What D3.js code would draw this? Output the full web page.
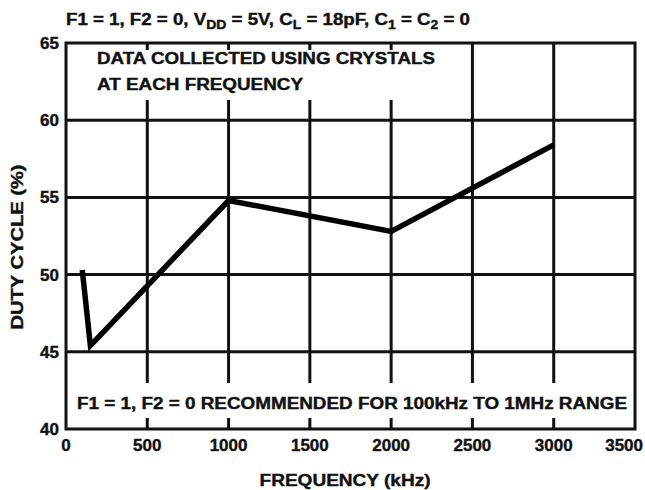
<!DOCTYPE html>
<html>
<head>
<meta charset="utf-8">
<script src="https://cdn.jsdelivr.net/npm/d3@7"></script>
<style>
    body { margin: 0; background: #fff; }
    text { font-family: "Liberation Sans", Arial, sans-serif; font-weight: bold; fill: #111; stroke: #111; stroke-width: 0.4px; }
</style>
</head>
<body>
<svg id="chart" width="645" height="490"></svg>
<script>
let freq = [100, 150, 1000, 2000, 3000]
let duty = [50.3, 45.4, 54.8, 52.8, 58.4]

let x_ticks = [0, 500, 1000, 1500, 2000, 2500, 3000, 3500]
let y_ticks = [40, 45, 50, 55, 60, 65]

let pad = { 'l': 66, 'r': 10, 't': 43, 'b': 61 }
let width = 645
let height = 490

let svg = d3.select('#chart')

let x = d3.scaleLinear().domain([0, 3500]).range([pad.l, width - pad.r])
let y = d3.scaleLinear().domain([40, 65]).range([height - pad.b, pad.t])

let grid = svg.append('g')
grid.selectAll('line.vg').data(x_ticks.slice(1, -1)).enter()
    .append('line')
    .attr('class', 'vg')
    .attr('x1', d => x(d)).attr('x2', d => x(d))
    .attr('y1', y(65)).attr('y2', y(40))
    .attr('stroke', '#111').attr('stroke-width', 3)

grid.selectAll('line.hg').data(y_ticks.slice(1, -1)).enter()
    .append('line')
    .attr('class', 'hg')
    .attr('x1', x(0)).attr('x2', x(3500))
    .attr('y1', d => y(d)).attr('y2', d => y(d))
    .attr('stroke', '#111').attr('stroke-width', 3)

// white boxes behind the notes, grid shows only as short ticks there
let boxes = svg.append('g')
boxes.append('rect')
    .attr('x', x(0) + 2).attr('y', y(65) + 7)
    .attr('width', 385).attr('height', 50)
    .style('fill', '#ffffff')
boxes.append('rect')
    .attr('x', x(0) + 2).attr('y', 383)
    .attr('width', x(3500) - x(0) - 4).attr('height', 35)
    .style('fill', '#ffffff')

// frame
svg.append('rect')
    .attr('x', x(0)).attr('y', y(65))
    .attr('width', x(3500) - x(0)).attr('height', y(40) - y(65))
    .attr('fill', 'none').attr('stroke', '#111').attr('stroke-width', 3)

// data line
let line = d3.line().x((d, i) => x(freq[i])).y(d => y(d))
svg.append('path')
    .datum(duty)
    .attr('d', line)
    .attr('fill', 'none')
    .attr('stroke', '#000')
    .attr('stroke-width', 5.5)
    .attr('stroke-linejoin', 'miter')

// tick labels
svg.append('g').selectAll('text').data(x_ticks).enter()
    .append('text')
    .attr('x', d => d === 3500 ? 643 : x(d)).attr('y', 451)
    .attr('text-anchor', d => d === 3500 ? 'end' : 'middle')
    .style('font-size', '17px')
    .text(d => d)

svg.append('g').selectAll('text').data(y_ticks).enter()
    .append('text')
    .attr('x', x(0) - 7).attr('y', d => y(d) + 6)
    .attr('text-anchor', 'end')
    .style('font-size', '17px')
    .text(d => d)

// axis titles
svg.append('text')
    .attr('x', 345).attr('y', 486)
    .attr('text-anchor', 'middle')
    .attr('textLength', 171).attr('lengthAdjust', 'spacingAndGlyphs')
    .style('font-size', '16px')
    .text('FREQUENCY (kHz)')

svg.append('text')
    .attr('transform', `translate(23, 247) rotate(-90)`)
    .attr('text-anchor', 'middle')
    .attr('textLength', 165).attr('lengthAdjust', 'spacingAndGlyphs')
    .style('font-size', '16px')
    .text('DUTY CYCLE (%)')

// heading
let head = svg.append('text')
    .attr('x', x(0)).attr('y', 25)
    .attr('textLength', 404).attr('lengthAdjust', 'spacingAndGlyphs')
    .style('font-size', '16px')
head.append('tspan').text('F1 = 1, F2 = 0, V')
head.append('tspan').attr('dy', 4).style('font-size', '12px').text('DD')
head.append('tspan').attr('dy', -4).text(' = 5V, C')
head.append('tspan').attr('dy', 4).style('font-size', '12px').text('L')
head.append('tspan').attr('dy', -4).text(' = 18pF, C')
head.append('tspan').attr('dy', 4).style('font-size', '12px').text('1')
head.append('tspan').attr('dy', -4).text(' = C')
head.append('tspan').attr('dy', 4).style('font-size', '12px').text('2')
head.append('tspan').attr('dy', -4).text(' = 0')

// notes
svg.append('text')
    .attr('x', 97).attr('y', 64)
    .attr('textLength', 338).attr('lengthAdjust', 'spacingAndGlyphs')
    .style('font-size', '16px')
    .text('DATA COLLECTED USING CRYSTALS')
svg.append('text')
    .attr('x', 97).attr('y', 90)
    .attr('textLength', 206).attr('lengthAdjust', 'spacingAndGlyphs')
    .style('font-size', '16px')
    .text('AT EACH FREQUENCY')
svg.append('text')
    .attr('x', 77).attr('y', 409)
    .attr('textLength', 550).attr('lengthAdjust', 'spacingAndGlyphs')
    .style('font-size', '16px')
    .text('F1 = 1, F2 = 0 RECOMMENDED FOR 100kHz TO 1MHz RANGE')
</script>
</body>
</html>
